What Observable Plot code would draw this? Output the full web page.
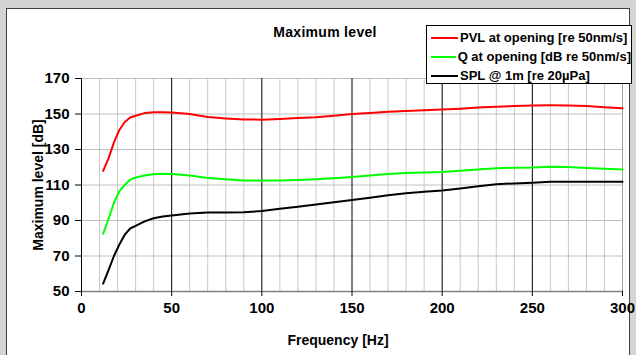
<!DOCTYPE html>
<html><head><meta charset="utf-8">
<script src="https://cdn.jsdelivr.net/npm/d3@7"></script>
<script src="https://cdn.jsdelivr.net/npm/@observablehq/plot@0.6"></script>
<style>
html,body{margin:0;padding:0;}
body{width:636px;height:355px;background:#d4d4d4;position:relative;overflow:hidden;font-family:"Liberation Sans",Arial,sans-serif;}
#panel{position:absolute;left:6px;top:8px;width:624px;height:360px;background:#fff;border:1px solid #404040;box-sizing:border-box;}
#chart{position:absolute;left:0;top:0;}
#title{position:absolute;left:225px;width:200px;top:24px;text-align:center;font-weight:bold;font-size:14px;letter-spacing:0.3px;color:#000;}
#legend{position:absolute;left:426px;top:25px;width:206px;height:59px;box-sizing:border-box;border:1px solid #000;background:#fff;padding-top:2px;}
.row{height:19px;display:flex;align-items:center;font-weight:bold;font-size:13px;color:#000;white-space:nowrap;}
.sw{width:27px;height:2px;margin-left:4px;margin-right:2px;}
</style>
</head><body>
<div id="panel"></div>
<div id="chart"></div>
<div id="title">Maximum level</div>
<div id="legend"></div>
<script>
// Data
const freq = [12, 15, 18, 21, 24, 27, 30, 35, 40, 45, 50, 60, 70, 80, 90, 100, 110, 120, 130, 140, 150, 160, 170, 180, 190, 200, 210, 220, 230, 240, 250, 260, 270, 280, 290, 300];
const pvl = [118, 125, 134, 141, 145.5, 148, 149, 150.5, 151, 151, 150.8, 150, 148.3, 147.5, 146.9, 146.8, 147.2, 147.7, 148.2, 149, 150, 150.6, 151.2, 151.7, 152.1, 152.5, 153, 153.6, 154.1, 154.5, 154.8, 154.9, 154.8, 154.5, 153.8, 153.2];
const q = [82.5, 91, 100, 106.5, 110, 113, 114.2, 115.4, 116.1, 116.3, 116.2, 115.3, 114, 113.2, 112.6, 112.5, 112.6, 112.8, 113.2, 113.8, 114.5, 115.3, 116.2, 116.8, 117.1, 117.3, 118, 118.8, 119.5, 119.7, 119.8, 120.3, 120.1, 119.6, 119.2, 118.8];
const spl = [54.5, 62, 70, 76.5, 82, 85.5, 87, 89.5, 91.3, 92.2, 92.8, 94, 94.5, 94.5, 94.7, 95.3, 96.6, 97.8, 99, 100.3, 101.5, 102.8, 104.2, 105.3, 106.2, 106.9, 108, 109.3, 110.4, 110.9, 111.3, 111.9, 111.9, 111.9, 111.9, 111.9];
const seriesNames = ["PVL at opening [re 50nm/s]", "Q at opening [dB re 50nm/s]", "SPL @ 1m [re 20µPa]"];
const seriesColors = ["#ff0000", "#00ff00", "#000000"];
const xTicks = [0, 50, 100, 150, 200, 250, 300];
const yTicks = [50, 70, 90, 110, 130, 150, 170];
const minorX = [10, 20, 30, 40, 60, 70, 80, 90, 110, 120, 130, 140, 160, 170, 180, 190, 210, 220, 230, 240, 260, 270, 280, 290];
const majorX = [50, 100, 150, 200, 250];

const seriesValues = [pvl, q, spl];
const rows = [];
seriesValues.forEach((vals, s) => vals.forEach((v, i) => rows.push({f: freq[i], v, s: seriesNames[s]})));

const chart = Plot.plot({
  width: 636, height: 355,
  marginLeft: 81, marginRight: 14, marginTop: 78, marginBottom: 64,
  x: {domain: [0, 300]},
  y: {domain: [50, 170]},
  color: {domain: seriesNames, range: seriesColors},
  style: {background: "transparent", fontFamily: "'Liberation Sans', Arial, sans-serif", fontSize: "15px", fontWeight: "bold", color: "#000"},
  marks: [
    Plot.ruleX(minorX, {stroke: "#c8c8c8", strokeWidth: 1}),
    Plot.ruleY(yTicks.filter(d => d > 50), {stroke: "#c0c0c0", strokeWidth: 1}),
    Plot.ruleX([300], {stroke: "#a0a0a0", strokeWidth: 1}),
    Plot.ruleX(majorX, {stroke: "#000", strokeWidth: 1}),
    Plot.ruleY([50], {stroke: "#808080", strokeWidth: 1.5}),
    Plot.ruleX([0], {stroke: "#000", strokeWidth: 1}),
    Plot.axisY({ticks: yTicks, tickSize: 6, tickPadding: 6, label: null, stroke: "#000", fontSize: 15}),
    Plot.axisX({ticks: xTicks, tickSize: 5, tickPadding: 6, label: null, stroke: "#000", fontSize: 15}),
    Plot.line(rows, {x: "f", y: "v", z: "s", stroke: "s", strokeWidth: 2}),
    Plot.text(["Maximum level [dB]"], {frameAnchor: "left", textAnchor: "middle", lineAnchor: "middle", dx: -43, rotate: -90, fontSize: 14, fontWeight: "bold"}),
    Plot.text(["Frequency [Hz]"], {frameAnchor: "bottom", textAnchor: "middle", lineAnchor: "middle", dx: -14, dy: 49, fontSize: 14, fontWeight: "bold"})
  ]
});
document.getElementById("chart").appendChild(chart);

const legend = document.getElementById("legend");
seriesNames.forEach((name, i) => {
  const row = document.createElement("div");
  row.className = "row";
  const sw = document.createElement("span");
  sw.className = "sw";
  sw.style.background = seriesColors[i];
  const t = document.createElement("span");
  t.textContent = name;
  row.appendChild(sw);
  row.appendChild(t);
  legend.appendChild(row);
});
</script>
</body></html>
